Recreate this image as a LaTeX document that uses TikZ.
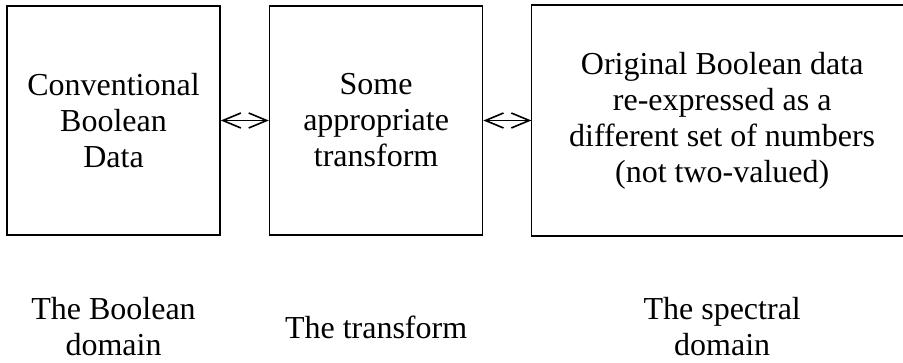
\documentclass[tikz,border=0pt]{standalone}
\usepackage{fontspec}
\setmainfont{Liberation Serif}
\usetikzlibrary{arrows.meta,positioning}

\begin{document}
\begin{tikzpicture}[
      x=1pt, y=-1pt,
      domainbox/.style={
        draw=black,
        line width=1.6pt,
        minimum height=229pt,
        align=center,
        font=\fontsize{32}{36}\selectfont
      },
      caption/.style={align=center, inner sep=0pt, font=\fontsize{32}{36}\selectfont},
      link/.style={{Straight Barb[length=18pt,width=15pt]}-{Straight Barb[length=18pt,width=15pt]}, line width=1.6pt},
      node distance=48pt
    ]
      \useasboundingbox (0,0) rectangle (903,363);
      \node[domainbox, minimum width=213pt] (boolean) at (113.5,120.5) {Conventional\\Boolean\\Data};
      \node[domainbox, minimum width=213pt, right=of boolean] (transform) {Some\\appropriate\\transform};
      % the last box runs off the right edge, so it is drawn open
      \node[domainbox, draw=none, minimum width=380pt, right=of transform] (spectral) {Original Boolean data\\re-expressed as a\\different set of numbers\\(not two-valued)};
      \draw[line width=1.6pt] (spectral.north east) -- (spectral.north west) -- (spectral.south west) -- (spectral.south east);
      \draw[link] (boolean) -- (transform);
      \draw[link] (transform) -- (spectral);
      % captions under the boxes
      \node[caption] (booleancap) at (boolean |- 0,327) {The Boolean\\domain};
      \node[caption] (transformcap) at (transform |- 0,327) {The transform};
      \node[caption] (spectralcap) at (spectral |- 0,327) {The spectral\\domain};
    \end{tikzpicture}
\end{document}
